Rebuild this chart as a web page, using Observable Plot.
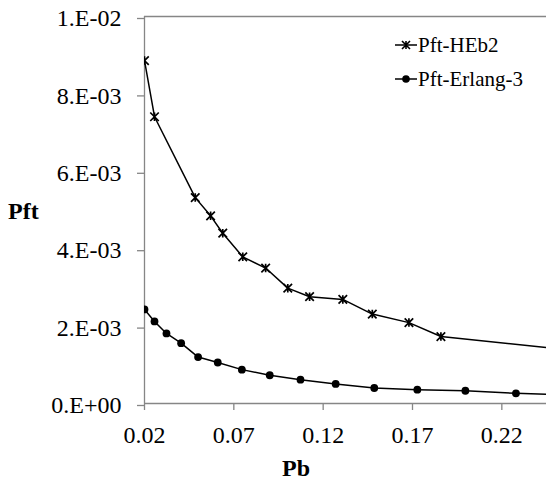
<!DOCTYPE html>
<html>
<head>
<meta charset="utf-8">
<script src="https://cdn.jsdelivr.net/npm/d3@7"></script>
<script src="https://cdn.jsdelivr.net/npm/@observablehq/plot@0.6"></script>
<style>
  html, body { margin: 0; padding: 0; background: #fff; }
  #chart svg { display: block; }
  #chart svg, #chart svg text { font-family: "Liberation Serif", "Times New Roman", serif !important; }
</style>
</head>
<body>
<div id="chart"></div>
<script>
// ---- data ----
const hebPb  = [0.020, 0.0256, 0.0484, 0.0570, 0.0638, 0.0750, 0.0878, 0.1002, 0.1124, 0.1310, 0.1475, 0.1680, 0.1859, 0.2500];
const hebPft = [0.00886, 0.00741, 0.00532, 0.00485, 0.00440, 0.00379, 0.00350, 0.00298, 0.00276, 0.00269, 0.00231, 0.00209, 0.00173, 0.00142];

const erlPb  = [0.020, 0.0256, 0.0323, 0.0405, 0.0500, 0.0610, 0.0745, 0.0901, 0.1073, 0.1270, 0.1486, 0.1727, 0.1996, 0.2279, 0.2500];
const erlPft = [0.00243, 0.00212, 0.00181, 0.00156, 0.00120, 0.00106, 0.000875, 0.00073, 0.000616, 0.000505, 0.00040, 0.000357, 0.00033, 0.000264, 0.00023];

const seriesNames = ["Pft-HEb2", "Pft-Erlang-3"];
const xTicks = [0.02, 0.07, 0.12, 0.17, 0.22];
const yTicks = [0, 0.002, 0.004, 0.006, 0.008, 0.01];
const yTickLabels = ["0.E+00", "2.E-03", "4.E-03", "6.E-03", "8.E-03", "1.E-02"];
const xTitle = "Pb";
const yTitle = "Pft";

const heb = hebPb.map((x, i) => ({x, y: hebPft[i]}));
const erl = erlPb.map((x, i) => ({x, y: erlPft[i]}));

// Excel-like star marker: X with vertical bar
const star = {
  draw(context, size) {
    const r = Math.sqrt(size) / 2;
    context.moveTo(-r, -r); context.lineTo(r, r);
    context.moveTo(-r, r); context.lineTo(r, -r);
    context.moveTo(0, -r); context.lineTo(0, r);
  }
};

const FONT = "Liberation Serif, Times New Roman, serif";
const AXIS = "#868686";

const plot = Plot.plot({
  width: 546,
  height: 480,
  marginLeft: 144,
  marginRight: 0,
  marginTop: 16,
  marginBottom: 77,
  style: {fontFamily: FONT, fontSize: "24px", color: "#000", background: "#fff"},
  x: {domain: [0.02, 0.245], ticks: xTicks},
  y: {domain: [0, 0.01], ticks: yTicks},
  marks: [
    Plot.ruleY([0.01], {stroke: AXIS, strokeWidth: 1.3}),
    Plot.axisX({ticks: xTicks, tickFormat: d => d.toFixed(2), tickSize: 7, tickPadding: 15, stroke: AXIS, strokeWidth: 1.3, label: null, fill: "#000", fontSize: 24}),
    Plot.axisY({ticks: yTicks, tickFormat: d => yTickLabels[yTicks.indexOf(d)], tickSize: 7, tickPadding: 16, dy: 2, stroke: AXIS, strokeWidth: 1.3, label: null, fill: "#000", fontSize: 24}),
    Plot.ruleY([0], {stroke: AXIS, strokeWidth: 1.3}),
    Plot.ruleX([0.02], {stroke: AXIS, strokeWidth: 1.3}),
    Plot.line(heb, {x: "x", y: "y", stroke: "#000", strokeWidth: 1.5, clip: true}),
    Plot.dot(heb, {x: "x", y: "y", symbol: star, r: 4.8, stroke: "#000", strokeWidth: 1.7, fill: "none", clip: true}),
    Plot.line(erl, {x: "x", y: "y", stroke: "#000", strokeWidth: 1.5, clip: true}),
    Plot.dot(erl, {x: "x", y: "y", r: 3.9, fill: "#000", stroke: "none", clip: true})
  ]
});

const svg = d3.select(plot);

// axis titles
svg.append("text").attr("x", 296).attr("y", 476).attr("text-anchor", "middle")
  .attr("font-weight", "bold").attr("font-size", 24).attr("fill", "#000").text(xTitle);
svg.append("text").attr("x", 8).attr("y", 219).attr("text-anchor", "start")
  .attr("font-weight", "bold").attr("font-size", 24).attr("fill", "#000").text(yTitle);

// legend
const lg = svg.append("g");
const legendY = [45, 79];
seriesNames.forEach((name, i) => {
  const y = legendY[i];
  lg.append("line").attr("x1", 395).attr("x2", 417).attr("y1", y).attr("y2", y).attr("stroke", "#000").attr("stroke-width", 1.5);
  if (i === 0) {
    const r = 4;
    lg.append("path").attr("d", `M${406-r},${y-r}L${406+r},${y+r}M${406-r},${y+r}L${406+r},${y-r}M406,${y-r}L406,${y+r}`)
      .attr("stroke", "#000").attr("stroke-width", 1.6).attr("fill", "none");
  } else {
    lg.append("circle").attr("cx", 406).attr("cy", y).attr("r", 3.8).attr("fill", "#000");
  }
  lg.append("text").attr("x", 418).attr("y", y).attr("dy", "0.35em").attr("text-anchor", "start")
    .attr("font-size", 21).attr("fill", "#000").text(name);
});

document.getElementById("chart").appendChild(plot);
</script>
</body>
</html>
